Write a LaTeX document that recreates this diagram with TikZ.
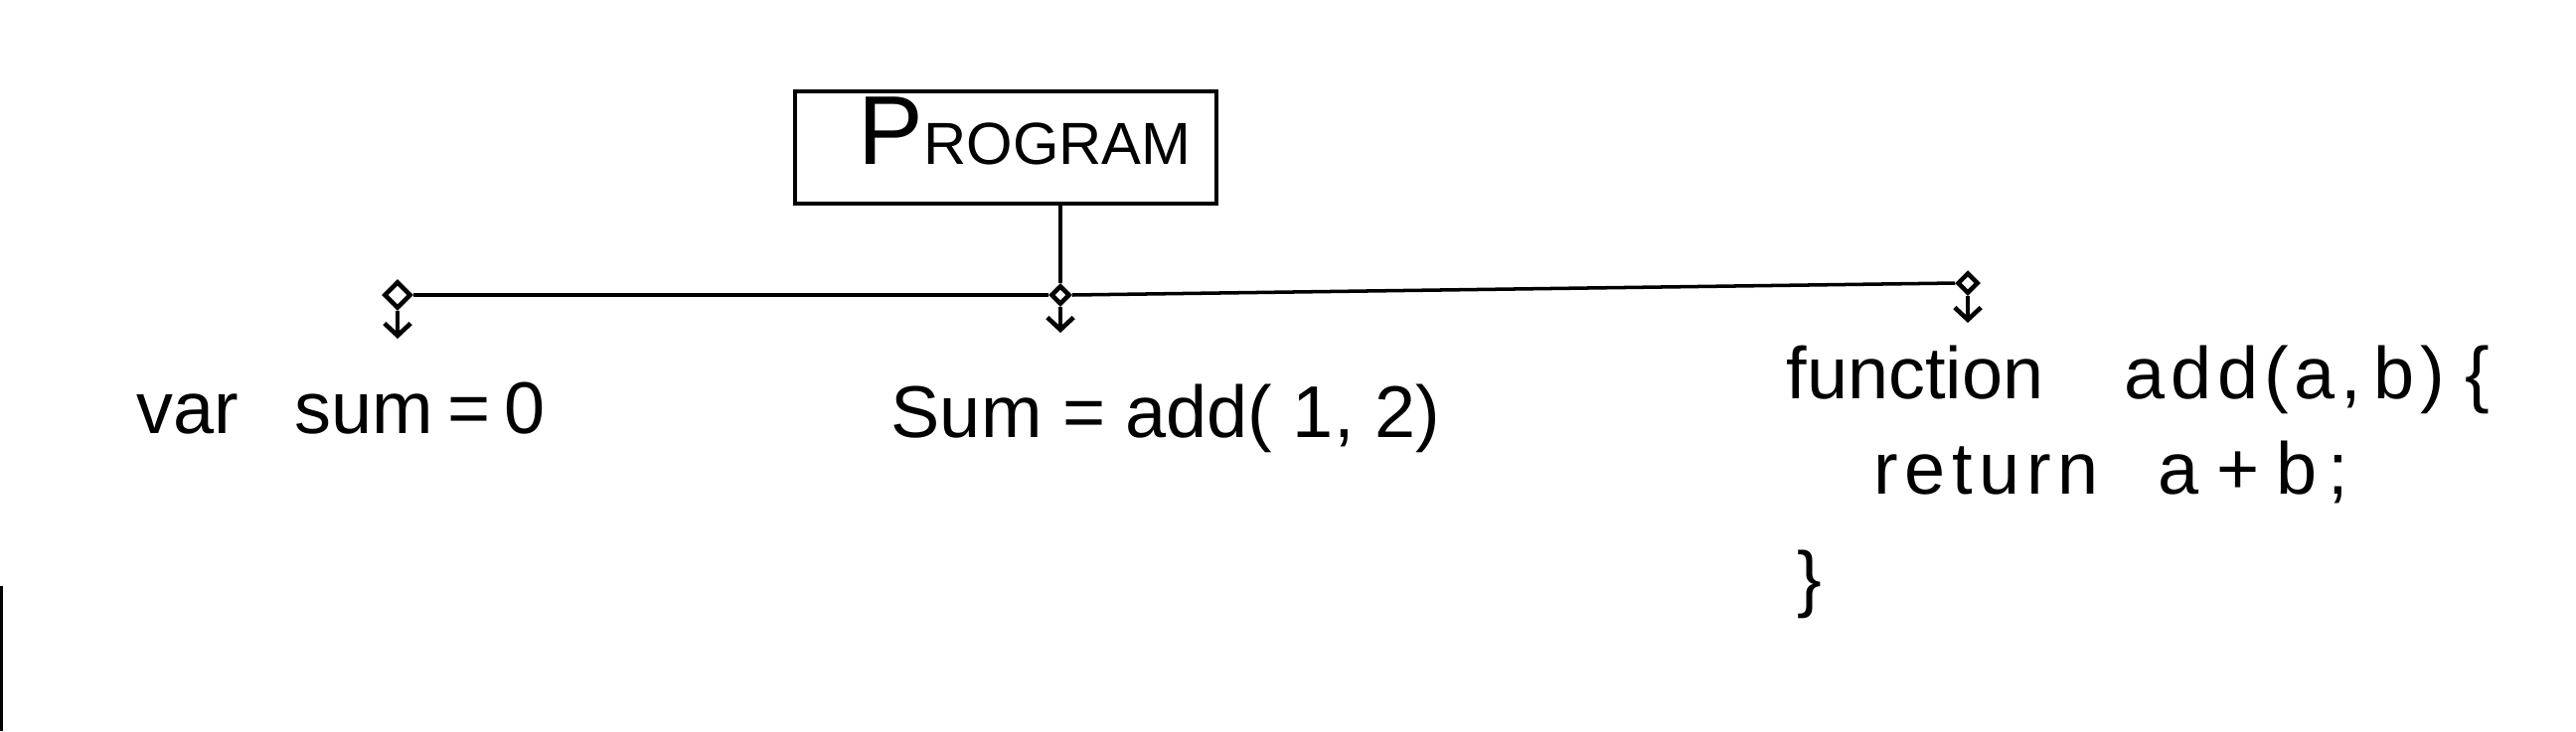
\documentclass[tikz,border=0pt]{standalone}
\usepackage{fontspec}
\setmainfont{Liberation Sans}
\usetikzlibrary{shapes.geometric,arrows.meta}
\begin{document}
\begin{tikzpicture}[x=0.01cm,y=-0.01cm,
  hand/.style={font=\fontsize{21}{25}\selectfont, inner sep=0pt, anchor=base west},
  progbox/.style={draw, line width=1pt, minimum width=4.24cm, minimum height=1.13cm, inner sep=0pt},
  joint/.style={diamond, draw, line width=1.3pt, inner sep=0pt, minimum size=#1, fill=white},
  joint/.default=0.24cm,
  link/.style={line width=1pt},
  drop/.style={line width=1.3pt, -{Straight Barb[length=3.5pt,width=7.5pt]}}
]
\useasboundingbox (0,0) rectangle (2592,736);

% box
\node[progbox] (prog) at (1012,148.5) {};
\node[inner sep=0pt, anchor=base west] (progtxt) at (863,165)
  {{\fontsize{28}{30}\selectfont P}{\fontsize{17}{20}\selectfont ROGRAM}};

% joints
\node[joint=0.27cm] (left) at (400,297) {};
\node[joint=0.19cm] (mid) at (1067,297) {};
\node[joint=0.21cm] (right) at (1980,285) {};

\draw[link] (mid.north |- prog.south) -- (mid.north);
\draw[link] (left.east) -- (mid.west);
\draw[link] (mid.east) -- (right.west);

\coordinate (lefttip) at (400,341);
\coordinate (midtip) at (1067,335);
\coordinate (righttip) at (1980,325);
\draw[drop] (left.south) -- (lefttip);
\draw[drop] (mid.south) -- (midtip);
\draw[drop] (right.south) -- (righttip);

% texts
\node[hand] (varsum) at (137,436) {var\hspace{16pt}sum\hspace{4pt}=\hspace{4pt}0};
\node[hand] (call) at (896,440) {Sum = add( 1, 2)};
\node[hand] (fn1) at (1797,401) {function\hspace{23pt}{\addfontfeature{LetterSpace=8}add(a,\,b)\;\{}};
\node[hand] (fn2) at (1885,497) {{\addfontfeature{LetterSpace=9}return}\hspace{17pt}a\hspace{5pt}+\hspace{5pt}b\hspace{3pt};};
\node[hand] (fn3) at (1808,607) {\}};

% scan edge mark
\fill (0,590) rectangle (3,736);
\end{tikzpicture}
\end{document}
